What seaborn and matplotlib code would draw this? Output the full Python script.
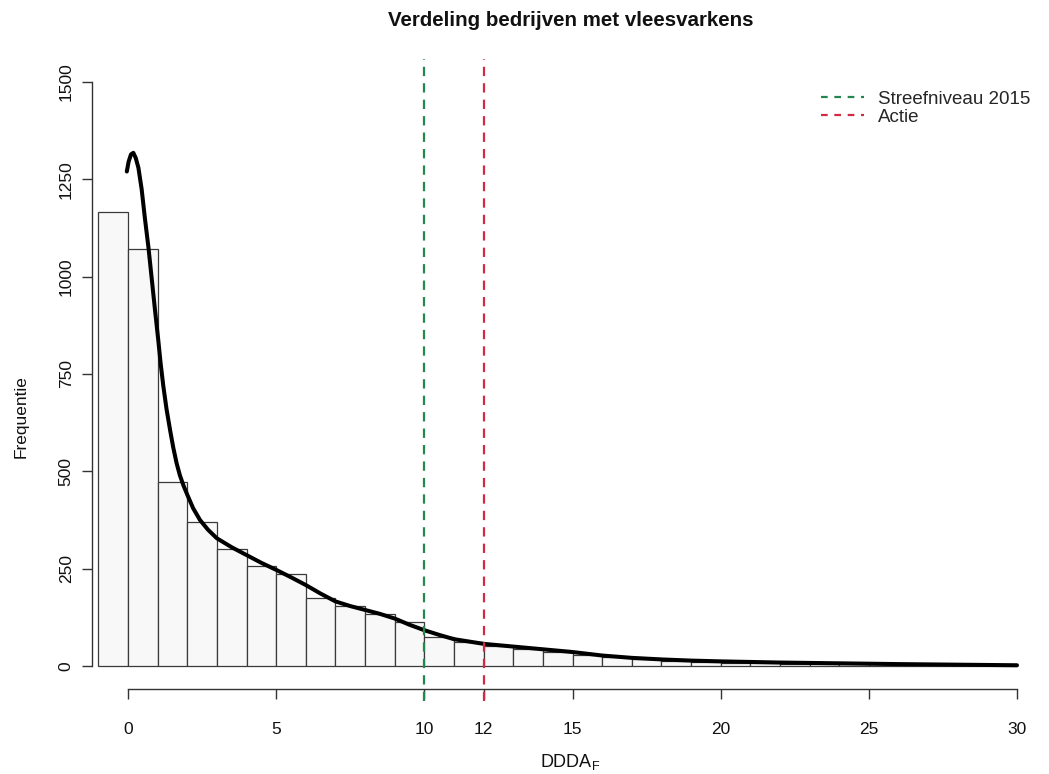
import numpy as np
import pandas as pd
import matplotlib
matplotlib.use("Agg")
import matplotlib.pyplot as plt
import seaborn as sns
from matplotlib.lines import Line2D

# ---- data ----
bin_edges = list(range(-1, 31))
bin_counts = [1165, 1070, 472, 370, 301, 258, 237, 175, 155, 133, 114,
              75, 62, 52, 44, 37, 28, 22, 17, 13, 10,
              8, 7, 6, 5, 4, 4, 3, 3, 2, 2]

curve_x = [-0.04, 0.02, 0.10, 0.18, 0.26, 0.35, 0.46, 0.57, 0.69, 0.80, 0.91,
           1.02, 1.10, 1.19, 1.30, 1.42, 1.53, 1.64, 1.75, 1.87, 2.0, 2.2,
           2.43, 2.7, 3.0, 3.5, 4.0, 4.5, 5.0, 5.5, 6.0, 6.5, 7.0, 7.5, 8.0,
           8.5, 9.0, 9.5, 10.0, 10.5, 11.0, 12.0, 13.0, 14.0, 15.0, 16.0,
           17.0, 18.0, 19.0, 20.0, 22.0, 24.0, 26.0, 28.0, 30.0]
curve_y = [1270, 1295, 1314, 1318, 1305, 1280, 1225, 1150, 1075, 995, 915,
           838, 778, 720, 660, 606, 560, 521, 490, 464, 440, 405,
           375, 350, 328, 305, 285, 265, 247, 228, 208, 186, 166, 154, 144,
           134, 122, 106, 92, 80, 69, 57, 50, 43, 36, 27,
           21, 17, 14, 12, 9, 7, 5, 3.5, 2]

x_ticks = [0, 5, 10, 12, 15, 20, 25, 30]
y_ticks = [0, 250, 500, 750, 1000, 1250, 1500]

ref_lines = [10, 12]
ref_labels = ["Streefniveau 2015", "Actie"]
ref_colors = ["#23884e", "#d22a44"]

title = "Verdeling bedrijven met vleesvarkens"
xlabel = "DDDA$_\\mathrm{F}$"
ylabel = "Frequentie"

# ---- styling ----
sns.set_style("white")
plt.rcParams["font.family"] = ["Liberation Sans", "DejaVu Sans"]
plt.rcParams["mathtext.fontset"] = "custom"
plt.rcParams["mathtext.rm"] = "Liberation Sans"
plt.rcParams["mathtext.it"] = "Liberation Sans:italic"
plt.rcParams["mathtext.bf"] = "Liberation Sans:bold"

W, H = 1049, 774
fig = plt.figure(figsize=(W / 100, H / 100), dpi=100)
left, right = 92 / W, 1.0
bottom, top = 1 - 689.4 / H, 1 - 58.6 / H
ax = fig.add_axes([left, bottom, right - left, top - bottom])

centers = [(bin_edges[i] + bin_edges[i + 1]) / 2 for i in range(len(bin_counts))]
df = pd.DataFrame({"x": centers, "n": bin_counts})
sns.histplot(data=df, x="x", weights="n", bins=bin_edges, ax=ax,
             color="#f8f8f8", edgecolor="#3a3a3a", linewidth=0.9, alpha=1)

cdf = pd.DataFrame({"x": curve_x, "y": curve_y})
sns.lineplot(data=cdf, x="x", y="y", ax=ax, color="black", linewidth=2.9,
             solid_capstyle="round", solid_joinstyle="round")

for v, c in zip(ref_lines, ref_colors):
    ax.axvline(v, ymin=-0.018, ymax=1, color=c, linewidth=1.6,
               dashes=(4.2, 3.2), clip_on=False)

ax.set_xlim(-1.215, 31.08)
ax.set_ylim(-60, 1560)

for s in ["top", "right"]:
    ax.spines[s].set_visible(False)
ax.spines["left"].set_bounds(0, 1500)
ax.spines["bottom"].set_bounds(0, 30)
for s in ["left", "bottom"]:
    ax.spines[s].set_color("#333333")
    ax.spines[s].set_linewidth(1.0)

ax.set_xticks(x_ticks)
ax.set_xticklabels([str(t) for t in x_ticks])
ax.set_yticks(y_ticks)
ax.set_yticklabels([str(t) for t in y_ticks], rotation=90, va="center")
ax.tick_params(axis="both", which="major", bottom=True, left=True,
               direction="out", length=7.2, width=1.0,
               color="#333333", labelsize=12.5, labelcolor="#111111")
ax.tick_params(axis="x", pad=16)
ax.tick_params(axis="y", pad=6)

ax.set_xlabel(xlabel, fontsize=13, labelpad=11, color="#111111")
ax.set_ylabel(ylabel, fontsize=12.5, color="#111111")
ax.yaxis.set_label_coords(-63 / (W * (right - left)), 0.433)
fig.text((92 + 1049) / 2 / W, 1 - 20 / H, title, ha="center", va="center",
         fontsize=14.8, fontweight="bold", color="#111111")

handles = [Line2D([0], [0], color=c, linewidth=1.6, dashes=(3, 3))
           for c in ref_colors]
leg = ax.legend(handles, ref_labels, loc="upper right", frameon=False,
                fontsize=13.5, handlelength=2.3, handletextpad=0.75,
                labelspacing=0.05, bbox_to_anchor=(0.994, 0.97),
                borderaxespad=0.3)

fig.savefig("out.png", dpi=100)
